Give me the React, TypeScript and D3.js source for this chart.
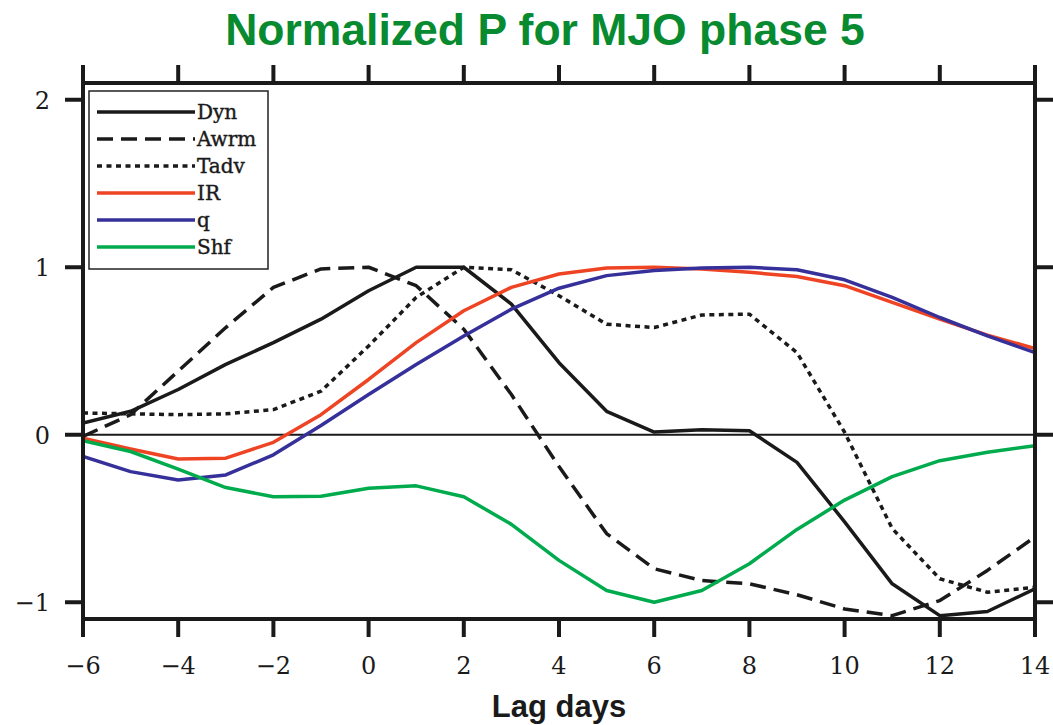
import * as d3 from 'd3'

const lags = d3.range(-6, 15)

const dyn = [0.07, 0.14, 0.27, 0.42, 0.55, 0.69, 0.86, 1.0, 1.0, 0.78, 0.43, 0.14, 0.016, 0.03, 0.024, -0.165, -0.52, -0.89, -1.08, -1.055, -0.92]
const awrm = [-0.01, 0.12, 0.38, 0.64, 0.88, 0.99, 1.0, 0.89, 0.63, 0.24, -0.19, -0.59, -0.8, -0.87, -0.89, -0.955, -1.04, -1.08, -0.99, -0.81, -0.61]
const tadv = [0.13, 0.125, 0.12, 0.125, 0.15, 0.26, 0.53, 0.82, 1.0, 0.985, 0.83, 0.66, 0.64, 0.715, 0.72, 0.49, 0.015, -0.56, -0.86, -0.94, -0.91]
const ir = [-0.02, -0.085, -0.145, -0.14, -0.045, 0.12, 0.33, 0.55, 0.74, 0.88, 0.96, 0.995, 1.0, 0.99, 0.97, 0.945, 0.89, 0.79, 0.69, 0.595, 0.515]
const q = [-0.13, -0.22, -0.27, -0.24, -0.12, 0.055, 0.24, 0.42, 0.59, 0.75, 0.875, 0.95, 0.98, 0.995, 1.0, 0.985, 0.925, 0.82, 0.7, 0.59, 0.49]
const shf = [-0.035, -0.1, -0.205, -0.315, -0.37, -0.367, -0.32, -0.305, -0.37, -0.535, -0.75, -0.93, -1.0, -0.93, -0.77, -0.565, -0.39, -0.25, -0.155, -0.105, -0.065]

const xTicks = [-6, -4, -2, 0, 2, 4, 6, 8, 10, 12, 14]
const yTicks = [-1, 0, 1, 2]

const series = [
  { name: 'Dyn', values: dyn, color: '#1a1a1a', dash: '' },
  { name: 'Awrm', values: awrm, color: '#1a1a1a', dash: '16,8' },
  { name: 'Tadv', values: tadv, color: '#1a1a1a', dash: '5,4.5' },
  { name: 'IR', values: ir, color: '#ee4424', dash: '' },
  { name: 'q', values: q, color: '#35309a', dash: '' },
  { name: 'Shf', values: shf, color: '#00ab4e', dash: '' },
]

const W = 1053
const H = 725
const plot = { left: 83, right: 1035, top: 83, bottom: 619 }
const tickLen = 18
const labelFont = '"DejaVu Serif", serif'

export default function App() {
  const x = d3.scaleLinear().domain([-6, 14]).range([plot.left, plot.right])
  const y = d3.scaleLinear().domain([-1.1, 2.1]).range([plot.bottom, plot.top])
  const line = d3.line<number>().x((_, i) => x(lags[i])).y(d => y(d))

  const legend = { x: 89, y: 91, w: 179, h: 178, row0: 21, rowGap: 27 }
  const fmt = (t: number) => (t < 0 ? `\u2212${Math.abs(t)}` : `${t}`)

  return (
    <svg width={W} height={H} style={{ position: 'absolute', left: 0, top: 0, background: '#fff' }}>
      <text x={545} y={45} textAnchor="middle" fontFamily='"Liberation Sans", Arial, sans-serif' fontWeight="bold" fontSize={44.5} fill="#078a30">
        Normalized P for MJO phase 5
      </text>

      <defs>
        <clipPath id="plot-clip">
          <rect x={plot.left} y={plot.top} width={plot.right - plot.left} height={plot.bottom - plot.top} />
        </clipPath>
      </defs>

      {/* zero reference line */}
      <line x1={plot.left} x2={plot.right} y1={y(0)} y2={y(0)} stroke="#1a1a1a" strokeWidth={1.8} />

      <g clipPath="url(#plot-clip)">
        {series.map(s => (
          <path
            key={s.name}
            d={line(s.values) ?? ''}
            fill="none"
            stroke={s.color}
            strokeWidth={3.5}
            strokeDasharray={s.dash || undefined}
            strokeLinejoin="round"
          />
        ))}
      </g>

      {/* legend */}
      <rect x={legend.x} y={legend.y} width={legend.w} height={legend.h} fill="#fff" stroke="#222" strokeWidth={1.5} />
      {series.map((s, i) => {
        const ly = legend.y + legend.row0 + i * legend.rowGap
        return (
          <g key={s.name}>
            <line x1={97} x2={195} y1={ly} y2={ly} stroke={s.color} strokeWidth={3.5} strokeDasharray={s.dash || undefined} />
            <text x={197} y={ly + 7} fontFamily={labelFont} fontSize={20} fill="#1a1a1a" stroke="#1a1a1a" strokeWidth={0.4}>{s.name}</text>
          </g>
        )
      })}

      {/* frame */}
      <rect x={plot.left} y={plot.top} width={plot.right - plot.left} height={plot.bottom - plot.top} fill="none" stroke="#1a1a1a" strokeWidth={4} />

      {xTicks.map(t => (
        <g key={`x${t}`}>
          <line x1={x(t)} x2={x(t)} y1={plot.bottom} y2={plot.bottom + tickLen} stroke="#1a1a1a" strokeWidth={4} />
          <line x1={x(t)} x2={x(t)} y1={plot.top} y2={plot.top - tickLen} stroke="#1a1a1a" strokeWidth={4} />
          <text x={x(t)} y={674} textAnchor="middle" fontFamily={labelFont} fontSize={24} fill="#1a1a1a">
            {fmt(t)}
          </text>
        </g>
      ))}

      {yTicks.map(t => (
        <g key={`y${t}`}>
          <line x1={plot.left} x2={plot.left - tickLen} y1={y(t)} y2={y(t)} stroke="#1a1a1a" strokeWidth={4} />
          <line x1={plot.right} x2={plot.right + tickLen} y1={y(t)} y2={y(t)} stroke="#1a1a1a" strokeWidth={4} />
          <text x={50} y={y(t) + 9} textAnchor="end" fontFamily={labelFont} fontSize={24} fill="#1a1a1a">
            {fmt(t)}
          </text>
        </g>
      ))}

      <text x={559} y={717} textAnchor="middle" fontFamily='"Liberation Sans", Arial, sans-serif' fontWeight="bold" fontSize={31} fill="#1a1a1a">
        Lag days
      </text>
    </svg>
  )
}
